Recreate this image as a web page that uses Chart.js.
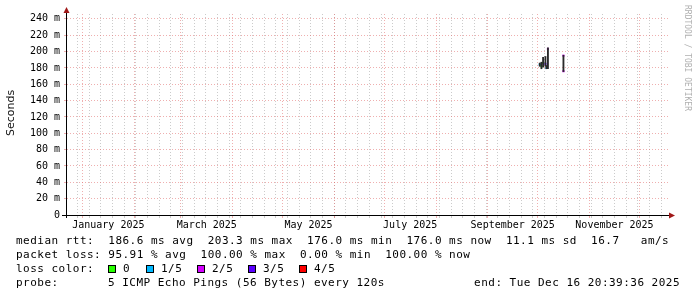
<!DOCTYPE html>
<html>
<head>
<meta charset="utf-8">
<script src="https://cdn.jsdelivr.net/npm/chart.js@4.4.1/dist/chart.umd.min.js"></script>
<style>
  html, body { margin: 0; padding: 0; background: #fff; }
  canvas { display: block; }
</style>
</head>
<body>
<canvas id="myChart" width="697" height="297"></canvas>
<script>
// x values are days counted from 1 Jan 2025
const smokeDays = [274.2, 275.2, 276.2, 277.6, 278.2, 279.1, 288.4];
const smokeLow  = [182, 179, 181, 182, 179, 179, 175.5];
const smokeHigh = [186, 187, 193, 194, 183, 204.5, 195.5];

const medianDays   = [274.2, 275.2, 276.2, 277.6, 278.2, 279.1, 288.4, 288.4];
const medianValues = [184, 182, 186, 185, 180, 203.3, 195, 176];
const medianLoss   = [1, 0, 0, 3, 1, 2, 2, 2];

const lossLabels = ['0', '1/5', '2/5', '3/5', '4/5'];
const lossColors = ['#26ff00', '#00b8ff', '#d400ff', '#5a00ff', '#ff0000'];

const monthLabels    = ['January 2025', 'March 2025', 'May 2025', 'July 2025', 'September 2025', 'November 2025'];
const monthLabelDays = [15.5, 74.5, 135.5, 196.5, 258, 319];
const monthStartDays = [0, 31, 59, 90, 120, 151, 181, 212, 243, 273, 304, 334];
const firstSunday = -3;   // 29 Dec 2024
const xMin = -9.3;
const xMax = 351.1;

const yTicks = [0, 10, 20, 30, 40, 50, 60, 70, 80, 90, 100, 110, 120, 130, 140, 150, 160, 170, 180, 190, 200, 210, 220, 230, 240];
const yMax = 246;

const statLines = [
    'median rtt:  186.6 ms avg  203.3 ms max  176.0 ms min  176.0 ms now  11.1 ms sd  16.7   am/s',
    'packet loss: 95.91 % avg  100.00 % max  0.00 % min  100.00 % now'
];
const probeLabel = 'probe:';
const probeText = '5 ICMP Echo Pings (56 Bytes) every 120s';
const endText = 'end: Tue Dec 16 20:39:36 2025';

const MAJOR = 'rgba(225, 110, 110, 0.55)';
const MINOR = 'rgba(160, 160, 160, 0.55)';
const MONO = '"DejaVu Sans Mono", monospace';

function drawMono(ctx, text, x, y, pitch) {
    for (let i = 0; i < text.length; i++) {
        ctx.fillText(text[i], x + i * pitch, y);
    }
}

const framePlugin = {
    id: 'frame',
    afterDraw(chart) {
        const ctx = chart.ctx;
        const a = chart.chartArea;
        ctx.save();

        // axes
        ctx.strokeStyle = '#000';
        ctx.lineWidth = 1;
        ctx.beginPath();
        ctx.moveTo(a.left - 5, a.bottom + 0.5);
        ctx.lineTo(a.right + 2, a.bottom + 0.5);
        ctx.moveTo(a.left - 0.5, a.bottom + 3);
        ctx.lineTo(a.left - 0.5, a.top - 2);
        ctx.stroke();

        // arrows
        ctx.fillStyle = '#a01818';
        ctx.beginPath();
        ctx.moveTo(a.left - 0.5, a.top - 7);
        ctx.lineTo(a.left - 3.5, a.top - 1);
        ctx.lineTo(a.left + 2.5, a.top - 1);
        ctx.closePath();
        ctx.fill();
        ctx.beginPath();
        ctx.moveTo(a.right + 7, a.bottom + 0.5);
        ctx.lineTo(a.right + 1, a.bottom - 2.5);
        ctx.lineTo(a.right + 1, a.bottom + 3.5);
        ctx.closePath();
        ctx.fill();

        // y title
        ctx.fillStyle = '#111';
        ctx.save();
        ctx.translate(11, 113);
        ctx.rotate(-Math.PI / 2);
        ctx.font = '11px "DejaVu Sans"';
        ctx.textAlign = 'center';
        ctx.textBaseline = 'middle';
        ctx.fillText('Seconds', 0, 0);
        ctx.restore();

        // watermark
        ctx.save();
        ctx.translate(687, 5);
        ctx.rotate(Math.PI / 2);
        ctx.font = '8px ' + MONO;
        ctx.fillStyle = '#b0b0b0';
        ctx.textAlign = 'left';
        ctx.textBaseline = 'middle';
        ctx.fillText('RRDTOOL / TOBI OETIKER', 0, 0);
        ctx.restore();

        // legend text
        const pitch = 7.1;
        ctx.font = '11px ' + MONO;
        ctx.fillStyle = '#000';
        ctx.textAlign = 'left';
        ctx.textBaseline = 'middle';
        drawMono(ctx, statLines[0], 16, 241, pitch);
        drawMono(ctx, statLines[1], 16, 255, pitch);
        drawMono(ctx, 'loss color:', 16, 269, pitch);
        const boxX = [108, 146, 197, 248, 299];
        lossLabels.forEach((lab, i) => {
            ctx.fillStyle = lossColors[i];
            ctx.fillRect(boxX[i], 265, 8, 8);
            ctx.strokeStyle = '#000';
            ctx.strokeRect(boxX[i] + 0.5, 265.5, 7, 7);
            ctx.fillStyle = '#000';
            drawMono(ctx, lab, boxX[i] + 15, 269, pitch);
        });
        drawMono(ctx, probeLabel, 16, 283, pitch);
        drawMono(ctx, probeText, 108, 283, pitch);
        drawMono(ctx, endText, 680 - endText.length * pitch, 283, pitch);

        ctx.restore();
    }
};

const ctxMain = document.getElementById('myChart').getContext('2d');
const chart = new Chart(ctxMain, {
    type: 'scatter',
    data: {
        datasets: [{
            type: 'bar',
            label: 'smoke',
            data: smokeDays.map((d, i) => ({ x: d, y: [smokeLow[i], smokeHigh[i]] })),
            backgroundColor: '#2a2a2a',
            barThickness: 1.2,
            borderWidth: 0
        }, {
            type: 'scatter',
            label: 'median',
            data: medianDays.map((d, i) => ({ x: d, y: medianValues[i] })),
            pointStyle: 'rect',
            pointRadius: 1.5,
            borderWidth: 0,
            backgroundColor: medianLoss.map(l => lossColors[l])
        }]
    },
    options: {
        responsive: false,
        animation: false,
        devicePixelRatio: 1,
        layout: { padding: { left: 0, right: 29, top: 14, bottom: 62 } },
        plugins: {
            legend: { display: false },
            tooltip: { enabled: false }
        },
        scales: {
            x: {
                type: 'linear',
                min: xMin,
                max: xMax,
                offset: false,
                grid: {
                    offset: false,
                    lineWidth: 1,
                    tickLength: 3,
                    color: (c) => c.tick && c.tick.kind === 'month' ? MAJOR : (c.tick && c.tick.kind === 'week' ? MINOR : 'rgba(0,0,0,0)')
                },
                border: { display: false, dash: [1, 2] },
                afterBuildTicks: (scale) => {
                    const t = [];
                    for (let d = firstSunday; d <= xMax; d += 7) t.push({ value: d, kind: 'week' });
                    monthStartDays.forEach(d => t.push({ value: d, kind: 'month' }));
                    monthLabelDays.forEach((d, i) => t.push({ value: d, kind: 'label', text: monthLabels[i] }));
                    t.sort((p, q) => p.value - q.value);
                    scale.ticks = t;
                },
                afterFit: (scale) => { scale.height = 20; },
                ticks: {
                    autoSkip: false,
                    maxRotation: 0,
                    padding: 1,
                    color: '#000',
                    font: { family: MONO, size: 10 },
                    callback: (value, index, ticks) => ticks[index].text || ''
                }
            },
            y: {
                type: 'linear',
                min: 0,
                max: yMax,
                grid: {
                    lineWidth: 1,
                    tickLength: 3,
                    color: (c) => c.tick && c.tick.value % 20 === 0 ? MAJOR : MINOR
                },
                border: { display: false, dash: [1, 2] },
                afterBuildTicks: (scale) => {
                    scale.ticks = yTicks.map(v => ({ value: v })).concat([{ value: yMax }]);
                },
                afterFit: (scale) => { scale.width = 67; },
                ticks: {
                    padding: 4,
                    color: '#000',
                    font: { family: MONO, size: 10 },
                    callback: (value) => value % 20 === 0 ? (value === 0 ? '0' : value + ' m') : ''
                }
            }
        }
    },
    plugins: [framePlugin]
});
</script>
</body>
</html>
